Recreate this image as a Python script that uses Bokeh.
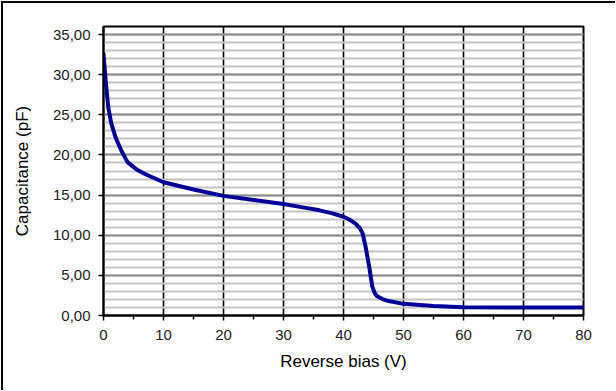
from bokeh.plotting import figure
from bokeh.models import FixedTicker, Range1d
from bokeh.embed import file_html
from bokeh.resources import INLINE

# C-V measurement: capacitance versus reverse bias
bias_v = [0, 0.4, 0.8, 1.3, 2, 3, 4, 5.5, 7, 10, 15, 20, 25, 30, 33, 36, 38, 40,
          41, 42, 42.7, 43.2, 43.7, 44.3, 44.8, 45.2, 45.6, 46.5, 47.5, 50, 55,
          60, 70, 80]
capacitance_pf = [32.6, 28.9, 25.9, 23.9, 22.2, 20.5, 19.1, 18.2, 17.6, 16.6,
                  15.7, 14.9, 14.4, 13.9, 13.5, 13.1, 12.75, 12.3, 11.95, 11.45,
                  10.9, 10.2, 8.5, 6.0, 3.6, 2.8, 2.4, 2.05, 1.8, 1.45, 1.17,
                  1.03, 1.0, 1.0]

x_ticks = [0, 10, 20, 30, 40, 50, 60, 70, 80]
x_minor = [5, 15, 25, 35, 45, 55, 65, 75]
y_ticks = [0, 5, 10, 15, 20, 25, 30, 35]
y_minor = list(range(0, 37))
y_labels = {t: f"{t:.2f}".replace(".", ",") for t in y_ticks}

FONT = "Liberation Sans"

p = figure(width=614, height=389, output_backend="svg", toolbar_location=None,
           x_range=Range1d(0, 80), y_range=Range1d(0, 36),
           min_border_left=100, min_border_right=32, min_border_top=23,
           min_border_bottom=75)
p.frame_width = 480
p.frame_height = 289
p.styles = {"border-top": "2px solid black", "border-left": "2px solid black",
            "margin-top": "1px", "margin-left": "1px"}

p.outline_line_color = "black"
p.outline_line_width = 2

# horizontal grid: light lines every unit, darker at each labelled tick
p.ygrid.ticker = FixedTicker(ticks=y_ticks, minor_ticks=y_minor)
p.ygrid.grid_line_color = "#8c8c8c"
p.ygrid.grid_line_width = 2
p.ygrid.minor_grid_line_color = "#c4c4c4"
p.ygrid.minor_grid_line_width = 2

# vertical grid: black lines every 10 V
p.xgrid.ticker = FixedTicker(ticks=x_ticks)
p.xgrid.grid_line_color = "black"
p.xgrid.grid_line_width = 1.6

p.line(bias_v, capacitance_pf, line_color="#000099", line_width=4,
       line_join="round", line_cap="round")

p.xaxis.ticker = FixedTicker(ticks=x_ticks, minor_ticks=x_minor)
p.yaxis.ticker = FixedTicker(ticks=y_ticks)
p.yaxis.major_label_overrides = y_labels

for ax in (p.xaxis[0], p.yaxis[0]):
    ax.axis_line_color = "black"
    ax.axis_line_width = 2
    ax.major_tick_line_color = "black"
    ax.major_tick_line_width = 1.5
    ax.major_tick_in = 0
    ax.major_tick_out = 5
    ax.major_label_text_font = FONT
    ax.major_label_text_font_size = "15px"
    ax.major_label_text_color = "#222222"
    ax.axis_label_text_font = FONT
    ax.axis_label_text_font_size = "17px"
    ax.axis_label_text_font_style = "normal"
    ax.axis_label_text_color = "black"

p.xaxis.minor_tick_line_color = "black"
p.xaxis.minor_tick_line_width = 1.5
p.xaxis.minor_tick_in = 0
p.xaxis.minor_tick_out = 4
p.yaxis.minor_tick_line_color = None

p.xaxis.major_label_standoff = 9
p.yaxis.major_label_standoff = 8
p.xaxis.axis_label = "Reverse bias (V)"
p.yaxis.axis_label = "Capacitance (pF)"
p.xaxis.axis_label_standoff = 9
p.yaxis.axis_label_standoff = 18

open("out.html", "w").write(file_html(p, INLINE))
